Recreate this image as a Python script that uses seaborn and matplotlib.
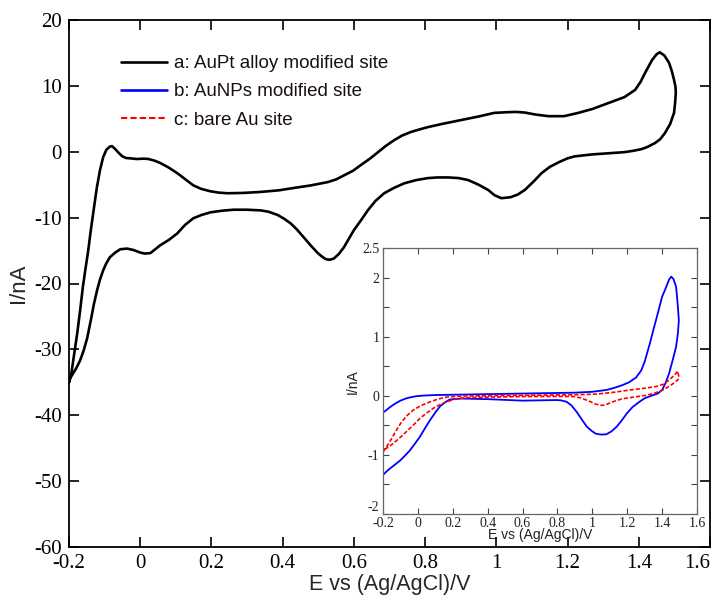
import numpy as np
import pandas as pd
import matplotlib
matplotlib.use("Agg")
import matplotlib.pyplot as plt
from matplotlib.lines import Line2D
import seaborn as sns

# ---------------- data ----------------
# a: AuPt alloy modified site (main axes), traced as a closed loop
a_E = [-0.200, -0.193, -0.185, -0.177, -0.169, -0.161, -0.153, -0.146, -0.139, -0.132,
       -0.122, -0.113, -0.104, -0.095, -0.085, -0.079, -0.070, -0.060, -0.050, -0.040,
       -0.028, -0.010, 0.010, 0.023, 0.040, 0.056, 0.080, 0.104, 0.127, 0.149,
       0.172, 0.197, 0.220, 0.245, 0.290, 0.338, 0.390, 0.431, 0.480, 0.527,
       0.550, 0.572, 0.597, 0.620, 0.645, 0.668, 0.690, 0.713, 0.735, 0.760,
       0.785, 0.808, 0.850, 0.900, 0.950, 0.994, 1.030, 1.055, 1.080, 1.110,
       1.146, 1.190, 1.230, 1.270, 1.315, 1.360, 1.390, 1.405, 1.417, 1.437,
       1.450, 1.459, 1.472, 1.485, 1.493, 1.499, 1.503, 1.504,
       1.502, 1.499, 1.488, 1.473, 1.460, 1.445, 1.425, 1.408, 1.385, 1.360,
       1.310, 1.270, 1.220, 1.200, 1.175, 1.150, 1.127, 1.105, 1.080, 1.060,
       1.040, 1.014, 0.995, 0.977, 0.950, 0.921, 0.895, 0.865, 0.835, 0.808,
       0.775, 0.741, 0.712, 0.685, 0.660, 0.639, 0.620, 0.600, 0.585, 0.572,
       0.558, 0.544, 0.532, 0.521, 0.510, 0.499, 0.480, 0.459, 0.440, 0.423,
       0.405, 0.386, 0.360, 0.338, 0.300, 0.262, 0.230, 0.197, 0.172, 0.149,
       0.126, 0.104, 0.080, 0.056, 0.040, 0.028, 0.012, 0.000, -0.020, -0.037,
       -0.056, -0.070, -0.085, -0.095, -0.104, -0.113, -0.121, -0.130, -0.137, -0.149,
       -0.159, -0.169, -0.180, -0.188, -0.197, -0.200]
a_I = [-35.0, -33.5, -30.5, -27.6, -24.2, -20.5, -17.5, -15.0, -12.0, -9.3,
       -5.5, -2.8, -0.8, 0.3, 0.8, 0.85, 0.4, -0.2, -0.7, -0.95,
       -1.0, -1.1, -1.05, -1.1, -1.35, -1.7, -2.4, -3.25, -4.2, -5.1,
       -5.65, -6.0, -6.2, -6.3, -6.25, -6.1, -5.85, -5.5, -5.1, -4.6,
       -4.2, -3.6, -2.9, -2.0, -1.05, -0.06, 0.9, 1.76, 2.45, 3.0,
       3.4, 3.74, 4.25, 4.8, 5.35, 5.9, 6.0, 6.05, 5.95, 5.65,
       5.4, 5.4, 5.9, 6.5, 7.4, 8.3, 9.4, 10.6, 11.9, 13.9,
       14.8, 15.1, 14.6, 13.5, 12.2, 10.9, 9.9, 8.9,
       7.4, 5.9, 4.2, 2.8, 1.9, 1.3, 0.75, 0.4, 0.15, -0.06,
       -0.25, -0.4, -0.7, -1.0, -1.6, -2.3, -3.25, -4.5, -5.8, -6.5,
       -6.9, -7.05, -6.6, -5.8, -5.0, -4.3, -4.0, -3.9, -3.9, -4.0,
       -4.3, -4.8, -5.5, -6.3, -7.5, -8.9, -10.4, -11.9, -13.3, -14.5,
       -15.5, -16.2, -16.4, -16.3, -15.9, -15.4, -14.3, -13.0, -11.8, -10.9,
       -10.2, -9.6, -9.1, -8.9, -8.8, -8.8, -8.95, -9.2, -9.6, -10.1,
       -11.1, -12.4, -13.4, -14.2, -14.9, -15.4, -15.45, -15.3, -14.9, -14.7,
       -14.8, -15.3, -16.0, -16.9, -18.0, -19.4, -21.0, -23.1, -25.1, -28.3,
       -30.2, -31.7, -32.9, -33.6, -34.4, -35.0]

# b: AuNPs modified site (inset)
b_E = [-0.200, -0.180, -0.160, -0.130, -0.100, -0.070, -0.045, -0.010, 0.030, 0.100,
       0.200, 0.400, 0.600, 0.800, 0.900, 1.000, 1.080, 1.130, 1.170, 1.210,
       1.250, 1.280, 1.300, 1.330, 1.350, 1.370, 1.400, 1.420, 1.440, 1.452,
       1.465, 1.480, 1.488, 1.496,
       1.490, 1.480, 1.460, 1.440, 1.420, 1.400, 1.375, 1.345, 1.300, 1.270,
       1.230, 1.197, 1.170, 1.140, 1.110, 1.080, 1.050, 1.020, 0.995, 0.968,
       0.940, 0.910, 0.880, 0.853, 0.820, 0.796, 0.700, 0.600, 0.400, 0.250,
       0.183, 0.155, 0.126, 0.100, 0.070, 0.040, 0.012, -0.015, -0.045, -0.070,
       -0.100, -0.130, -0.160, -0.180, -0.200]
b_I = [-0.28, -0.24, -0.19, -0.13, -0.08, -0.045, -0.025, -0.005, 0.005, 0.015,
       0.02, 0.03, 0.04, 0.05, 0.055, 0.07, 0.10, 0.14, 0.18, 0.23,
       0.31, 0.43, 0.58, 0.89, 1.12, 1.34, 1.68, 1.82, 1.97, 2.02,
       1.98, 1.85, 1.60, 1.28,
       1.05, 0.83, 0.60, 0.38, 0.22, 0.10, 0.04, 0.01, -0.04, -0.10,
       -0.19, -0.30, -0.41, -0.52, -0.60, -0.65, -0.655, -0.64, -0.59, -0.52,
       -0.40, -0.27, -0.16, -0.10, -0.075, -0.07, -0.075, -0.08, -0.055, -0.045,
       -0.06, -0.11, -0.18, -0.28, -0.41, -0.55, -0.69, -0.80, -0.92, -1.00,
       -1.09, -1.16, -1.23, -1.28, -1.34]

# c: bare Au site (inset)
c_E = [-0.200, -0.175, -0.150, -0.125, -0.100, -0.065, -0.027, 0.020, 0.070, 0.120,
       0.165, 0.230, 0.300, 0.600, 0.900, 1.020, 1.120, 1.214, 1.300, 1.367,
       1.410, 1.440, 1.470, 1.490, 1.496,
       1.490, 1.450, 1.405, 1.360, 1.310, 1.214, 1.170, 1.137, 1.100, 1.075,
       1.050, 1.020, 0.990, 0.966, 0.930, 0.890, 0.640, 0.400, 0.300, 0.240,
       0.200, 0.165, 0.125, 0.088, 0.050, 0.012, -0.025, -0.064, -0.100, -0.140,
       -0.170, -0.200]
c_I = [-0.95, -0.84, -0.72, -0.59, -0.47, -0.34, -0.24, -0.16, -0.10, -0.05,
       -0.02, -0.005, 0.00, 0.01, 0.02, 0.03, 0.06, 0.10, 0.13, 0.16,
       0.20, 0.27, 0.35, 0.42, 0.32,
       0.27, 0.18, 0.10, 0.05, 0.01, -0.03, -0.05, -0.08, -0.12, -0.155,
       -0.16, -0.14, -0.10, -0.07, -0.03, -0.01, -0.01, -0.02, -0.03, -0.04,
       -0.065, -0.10, -0.15, -0.21, -0.29, -0.38, -0.49, -0.60, -0.70, -0.80,
       -0.87, -0.92]

labels = ["a: AuPt alloy modified site", "b: AuNPs modified site", "c: bare Au site"]
main_xticks = [-0.2, 0, 0.2, 0.4, 0.6, 0.8, 1, 1.2, 1.4, 1.6]
main_xticklabels = ["-0.2", "0", "0.2", "0.4", "0.6", "0.8", "1", "1.2", "1.4", "1.6"]
main_yticks = [-60, -50, -40, -30, -20, -10, 0, 10, 20]
main_yticklabels = ["-60", "-50", "-40", "-30", "-20", "-10", "0", "10", "20"]
ins_yticks = [-2, -1.5, -1, -0.5, 0, 0.5, 1, 1.5, 2, 2.5]
ins_yticklabels = ["-2", "", "-1", "", "0", "", "1", "", "2", "2.5"]

# ---------------- figure ----------------
sns.set_style("ticks")
plt.rcParams["font.family"] = ["Liberation Sans", "DejaVu Sans"]
plt.rcParams["lines.solid_joinstyle"] = "round"
plt.rcParams["lines.dash_joinstyle"] = "round"

fig = plt.figure(figsize=(7.13, 5.96), dpi=100)
ax = fig.add_axes([69 / 713, 1 - 547 / 596, (710 - 69) / 713, (547 - 20) / 596])

df_a = pd.DataFrame({"E": a_E, "I": a_I})
sns.lineplot(data=df_a, x="E", y="I", sort=False, estimator=None, color="black",
             linewidth=1.9, ax=ax)

ax.set_xlim(-0.2, 1.6)
ax.set_ylim(-60, 20)
ax.set_xticks(main_xticks)
ax.set_xticklabels(main_xticklabels)
ax.set_yticks(main_yticks)
ax.set_yticklabels(main_yticklabels)
ax.tick_params(direction="in", length=7, width=1.2, top=True, right=True,
               labelsize=15, pad=5, colors="black")
for lab in ax.get_xticklabels() + ax.get_yticklabels():
    lab.set_family(["Liberation Serif", "DejaVu Serif"])
ax.get_xticklabels()[-1].set_horizontalalignment("right")
for s in ax.spines.values():
    s.set_linewidth(1.3)
    s.set_color("black")
ax.set_xlabel("E vs (Ag/AgCl)/V", fontsize=15.5, labelpad=1)
ax.set_ylabel("I/nA", fontsize=16, labelpad=4)

handles = [Line2D([], [], color="black", lw=1.9),
           Line2D([], [], color="blue", lw=1.9),
           Line2D([], [], color="red", lw=1.5, ls=(0, (3, 1.5)))]
ax.legend(handles, labels, loc="upper left", frameon=False,
          bbox_to_anchor=(121 / 713, 1 - 55 / 596), bbox_transform=fig.transFigure,
          fontsize=13.5, handlelength=2.45, handletextpad=0.37, labelspacing=0.6,
          borderaxespad=0, borderpad=0, labelcolor="#1a1010")

# ---------------- inset ----------------
ins = fig.add_axes([383 / 713, 1 - 514 / 596, (697 - 383) / 713, (514 - 248.3) / 596])
df_b = pd.DataFrame({"E": b_E, "I": b_I})
df_c = pd.DataFrame({"E": c_E, "I": c_I})
sns.lineplot(data=df_b, x="E", y="I", sort=False, estimator=None, color="blue",
             linewidth=1.3, ax=ins)
sns.lineplot(data=df_c, x="E", y="I", sort=False, estimator=None, color="red",
             linewidth=1.2, linestyle=(0, (2.5, 1.2)), ax=ins)
ins.set_xlim(-0.2, 1.6)
ins.set_ylim(-2, 2.5)
ins.set_xticks(main_xticks)
ins.set_xticklabels(main_xticklabels)
ins.set_yticks(ins_yticks)
ins.set_yticklabels(ins_yticklabels)
ins.tick_params(direction="in", length=4, width=0.8, top=True, right=True,
                labelsize=10, colors="#444444", labelcolor="#222222")
ins.tick_params(axis="x", pad=2)
ins.tick_params(axis="y", pad=2.5)
for lab in ins.get_xticklabels() + ins.get_yticklabels():
    lab.set_family(["Liberation Serif", "DejaVu Serif"])
ins.get_yticklabels()[0].set_verticalalignment("bottom")
for s in ins.spines.values():
    s.set_linewidth(0.9)
    s.set_color("#666666")
ins.set_xlabel("E vs (Ag/AgCl)/V", fontsize=10, labelpad=-1, color="#222222")
ins.set_ylabel("I/nA", fontsize=10, labelpad=2, color="#222222")

fig.savefig("out.png", dpi=100)
